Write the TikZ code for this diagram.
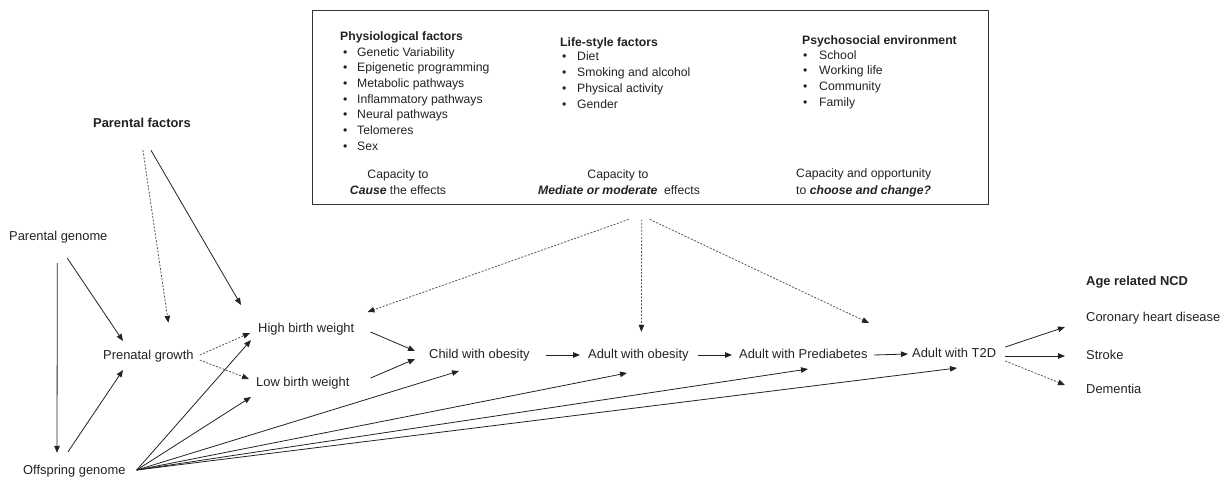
\documentclass[tikz,border=0pt]{standalone}
\usepackage{fontspec}
\setmainfont{Liberation Sans}
\usetikzlibrary{arrows.meta,calc}
\definecolor{ink}{HTML}{222222}
\definecolor{dgray}{HTML}{555555}
\definecolor{boxc}{HTML}{333333}
\begin{document}
\begin{tikzpicture}[x=1pt,y=-1pt,
  lbl/.style={font=\fontsize{12.9}{15}\selectfont, text=ink, inner sep=0pt, anchor=west, text height=9.3pt, text depth=2.7pt},
  btxt/.style={font=\fontsize{12.2}{15}\selectfont, text=ink, inner sep=0pt, anchor=west, text height=8.8pt, text depth=2.6pt},
  arr/.style={draw=ink, line width=0.8pt, -{Triangle[length=7pt,width=5.5pt,color=ink]}},
  darr/.style={arr, draw=dgray, dash pattern=on 2pt off 1.5pt},
]
\useasboundingbox (0,0) rectangle (1220,479);

% ---------- box ----------
\node[draw=boxc, line width=1.4pt, minimum width=676pt, minimum height=194pt, inner sep=0pt, anchor=north west] (box) at (312,10) {};

\node[btxt] (h1) at (340,37) {\textbf{Physiological factors}};
\foreach \t [count=\i] in {Genetic Variability, Epigenetic programming, Metabolic pathways, Inflammatory pathways, Neural pathways, Telomeres, Sex}
  \node[btxt] (a\i) at (343,{53+15.7*(\i-1)}) {\makebox[14pt][l]{\textbullet}\t};

\node[btxt] (h2) at (560,43) {\textbf{Life-style factors}};
\foreach \t [count=\i] in {Diet, Smoking and alcohol, Physical activity, Gender}
  \node[btxt] (b\i) at (562,{57+16*(\i-1)}) {\makebox[15pt][l]{\textbullet}\t};

\node[btxt] (h3) at (802,41) {\textbf{Psychosocial environment}};
\foreach \t [count=\i] in {School, Working life, Community, Family}
  \node[btxt] (c\i) at (803,{56+15.7*(\i-1)}) {\makebox[16pt][l]{\textbullet}\t};

\node[btxt, anchor=center] (k1a) at (398,175) {Capacity to};
\node[btxt, anchor=center] (k1b) at (398,191) {\textbf{\textit{Cause}} the effects};
\node[btxt, anchor=center] (k2a) at (618,175) {Capacity to};
\node[btxt, anchor=center] (k2b) at (619,191) {\textbf{\textit{Mediate or moderate}}\ \ effects};
\node[btxt] (k3a) at (796,174) {Capacity and opportunity};
\node[btxt] (k3b) at (796,191) {to \textbf{\textit{choose and change?}}};

% ---------- labels ----------
\node[lbl] (pf) at (93,124) {\textbf{Parental factors}};
\node[lbl] (pg) at (9,237) {Parental genome};
\node[lbl] (pn) at (103,356) {Prenatal growth};
\node[lbl] (og) at (23,471) {Offspring genome};
\node[lbl] (hb) at (258,329) {High birth weight};
\node[lbl] (lb) at (256,383) {Low birth weight};
\node[lbl] (ch) at (429,355) {Child with obesity};
\node[lbl] (ao) at (588,355) {Adult with obesity};
\node[lbl] (ap) at (739,355) {Adult with Prediabetes};
\node[lbl] (at) at (912,354) {Adult with T2D};
\node[lbl] (ncd) at (1086,282) {\textbf{Age related NCD}};
\node[lbl] (chd) at (1086,318) {Coronary heart disease};
\node[lbl] (st) at (1086,356) {Stroke};
\node[lbl] (de) at (1086,390) {Dementia};

% ---------- left arrows ----------
\draw[darr] ([shift={(1,20)}]pf.south) -- ([shift={(20,-27)}]pn.north);
\draw[arr]  ([shift={(9,20)}]pf.south) -- ([shift={(-17,-24)}]hb.west);
\draw[arr]  ([shift={(-1,20)}]pg.south) -- ([shift={(34,-12)}]og.north west);
\draw[arr]  ([shift={(9,15)}]pg.south) -- ([shift={(20,-15)}]pn.west);
\draw[arr]  ([shift={(45,-13)}]og.north west) -- ([shift={(20,14)}]pn.west);
\draw[darr] ([shift={(6,-1)}]pn.east) -- ([shift={(-8,4)}]hb.west);
\draw[darr] ([shift={(6,4)}]pn.east) -- ([shift={(-7,-4)}]lb.west);

% ---------- offspring genome fan ----------
\coordinate (o) at ([shift={(11,-1)}]og.east);
\draw[arr] (o) -- ([shift={(-7,11)}]hb.west);
\draw[arr] (o) -- ([shift={(-5,14)}]lb.west);
\draw[arr] (o) -- ([shift={(30,16)}]ch.west);
\draw[arr] (o) -- ([shift={(39,18)}]ao.west);
\draw[arr] (o) -- ([shift={(69,14)}]ap.west);
\draw[arr] (o) -- ([shift={(45,14)}]at.west);

% ---------- main chain ----------
\draw[arr] ([shift={(16,3)}]hb.east) -- ([shift={(-14,-4)}]ch.west);
\draw[arr] ([shift={(21,-5)}]lb.east) -- ([shift={(-14,4)}]ch.west);
\draw[arr] ([shift={(16,0)}]ch.east) -- ([shift={(-8,0)}]ao.west);
\draw[arr] ([shift={(9,0)}]ao.east) -- ([shift={(-7,0)}]ap.west);
\draw[arr] ([shift={(6,0)}]ap.east) -- ([shift={(-4,0)}]at.west);

% ---------- box influences ----------
\draw[darr] ([shift={(-22,14)}]box.south) -- ([shift={(13,-17)}]hb.east);
\draw[darr] ([shift={(-9,14)}]box.south) -- ([shift={(3,-17)}]ao.north);
\draw[darr] ([shift={(-1,14)}]box.south) -- ([shift={(-43,-31)}]at.west);

% ---------- outcomes ----------
\draw[arr]  ([shift={(9,-7)}]at.east) -- ([shift={(-21,9)}]chd.west);
\draw[arr]  ([shift={(9,2)}]at.east) -- ([shift={(-21,0)}]st.west);
\draw[darr] ([shift={(9,7)}]at.east) -- ([shift={(-21,-5)}]de.west);
\end{tikzpicture}
\end{document}
